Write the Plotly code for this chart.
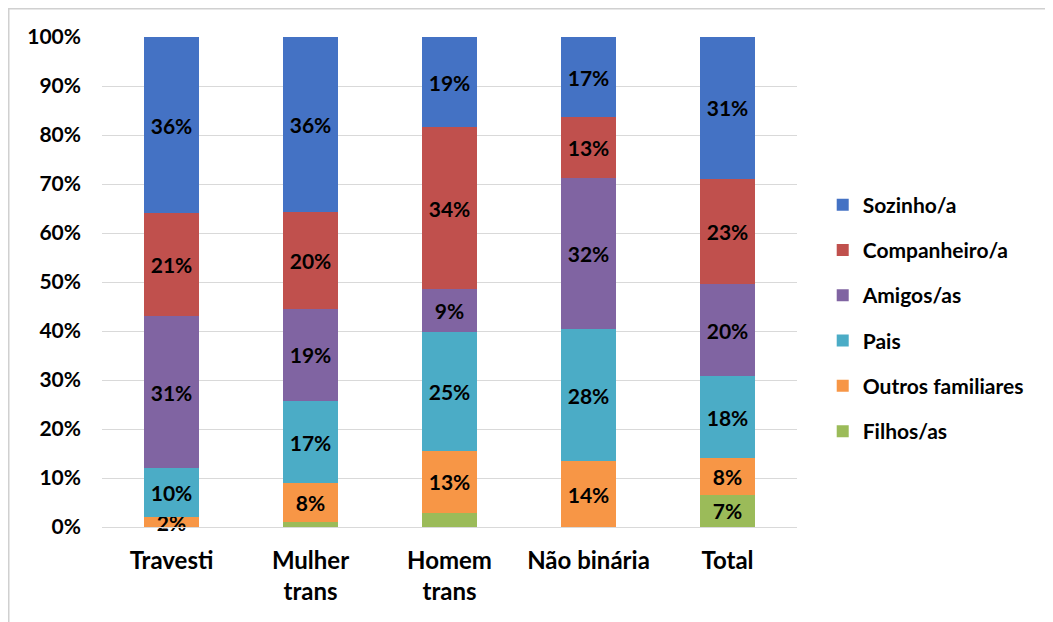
import plotly.graph_objects as go

# categorias e valores (rótulos do gráfico original, em %)
categorias = ["Travesti", "Mulher<br>trans", "Homem<br>trans", "Não binária", "Total"]

filhos = [0, 1, 3, 0, 7]
outros_familiares = [2, 8, 13, 14, 8]
pais = [10, 17, 25, 28, 18]
amigos = [31, 19, 9, 32, 20]
companheiro = [21, 20, 34, 13, 23]
sozinho = [36, 36, 19, 17, 31]

# rótulos visíveis (os segmentos pequenos de Filhos/as não têm rótulo)
filhos_rotulos = ["", "", "", "", "7%"]

series = [
    ("Filhos/as", filhos, "#9BBB59"),
    ("Outros familiares", outros_familiares, "#F79646"),
    ("Pais", pais, "#4BACC6"),
    ("Amigos/as", amigos, "#8064A2"),
    ("Companheiro/a", companheiro, "#C0504D"),
    ("Sozinho/a", sozinho, "#4472C4"),
]

fonte = "Lato"
L, T, PW, PH = 94, 29, 695, 490   # área do gráfico (a página soma 8px de margem)

fig = go.Figure()
for i, (nome, valores, cor) in enumerate(series):
    if nome == "Filhos/as":
        rotulos = filhos_rotulos
    else:
        rotulos = [f"{v}%" if v else "" for v in valores]
    fig.add_trace(go.Bar(
        x=categorias, y=valores, name=nome, legendgroup=nome,
        legendrank=100 - i,
        marker=dict(color=cor, line=dict(width=0)),
        text=rotulos, textposition="inside", insidetextanchor="middle",
        textangle=0, constraintext="none", cliponaxis=False,
        textfont=dict(family=fonte, size=21, color="black", weight="bold"),
        hoverinfo="skip",
    ))

fig.update_layout(
    barmode="stack", barnorm="percent", bargap=0.6,
    width=1045, height=614,
    margin=dict(l=L, r=1045 - L - PW, t=T, b=614 - T - PH),
    plot_bgcolor="white", paper_bgcolor="white",
    font=dict(family=fonte, color="black"),
    uniformtext=dict(mode=False),
    showlegend=True,
    legend=dict(
        x=1.037, y=0.4265, xanchor="left", yanchor="middle",
        traceorder="grouped", tracegroupgap=15,
        font=dict(family=fonte, size=21, color="black", weight="bold"),
        itemwidth=30, bgcolor="rgba(0,0,0,0)",
    ),
    shapes=[
        dict(type="line", xref="paper", yref="paper",
             x0=-L / PW, x1=(1045 - L) / PW, y0=(PH + T - 0.5) / PH, y1=(PH + T - 0.5) / PH,
             line=dict(color="#d0d0d0", width=2), layer="below"),
        dict(type="line", xref="paper", yref="paper",
             x0=(-L + 0.5) / PW, x1=(-L + 0.5) / PW, y0=(PH + T) / PH, y1=-(614 - T - PH) / PH,
             line=dict(color="#d0d0d0", width=2), layer="below"),
    ],
)
fig.update_yaxes(
    range=[0, 100], dtick=10, ticksuffix="%",
    showgrid=True, gridcolor="#d9d9d9", gridwidth=1,
    zeroline=False, showline=False, ticks="", ticklen=0,
    ticklabelstandoff=20,
    tickfont=dict(family=fonte, size=21, color="black", weight="bold"),
)
fig.update_xaxes(
    showline=True, linecolor="#d9d9d9", linewidth=1,
    ticks="", ticklabelstandoff=12,
    tickfont=dict(family=fonte, size=24, color="black", weight="bold"),
)

fig.write_html("out.html")
